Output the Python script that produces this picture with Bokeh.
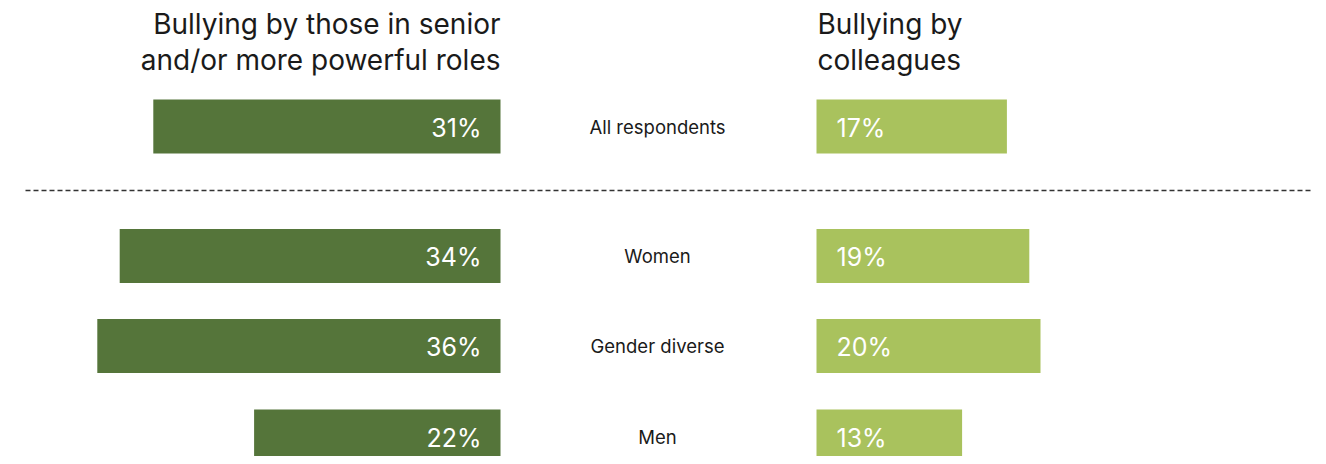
from bokeh.plotting import figure
from bokeh.models import Range1d, ColumnDataSource
from bokeh.core.properties import value
from bokeh.embed import file_html
from bokeh.resources import INLINE

# ---- data ----
categories = ["All respondents", "Women", "Gender diverse", "Men"]
senior = [31, 34, 36, 22]
colleagues = [17, 19, 20, 13]
title_senior = ["Bullying by those in senior", "and/or more powerful roles"]
title_colleagues = ["Bullying by", "colleagues"]

# ---- layout ----
W, H = 1318, 456
PX = 11.2                 # pixels per percentage point
LEFT0 = 500               # pixel x of the left bars' origin
RIGHT0 = (816 - LEFT0) / PX
row_y = [126, 255.5, 345.5, 436]
BAR_H = 54
DARK = "#55753A"
LIGHT = "#A9C25D"
FONT = "Inter"

p = figure(width=W, height=H, output_backend="svg", toolbar_location=None,
           x_range=Range1d(-LEFT0 / PX, (W - LEFT0) / PX),
           y_range=Range1d(H, 0), min_border=0)
p.axis.visible = False
p.grid.visible = False
p.outline_line_color = None
p.background_fill_color = "white"
p.border_fill_color = "white"

src = ColumnDataSource(dict(
    y=row_y,
    cat=categories,
    s_left=[-v for v in senior], s_right=[0] * len(senior),
    c_left=[RIGHT0] * len(colleagues), c_right=[RIGHT0 + v for v in colleagues],
    s_lab=[f"{v}%" for v in senior], c_lab=[f"{v}%" for v in colleagues],
    top=[y - BAR_H / 2 for y in row_y], bottom=[y + BAR_H / 2 for y in row_y],
    ty=[y + 1 for y in row_y],
    s_tx=[-19 / PX] * len(senior), c_tx=[RIGHT0 + 20 / PX] * len(colleagues),
    mx=[(657 - LEFT0) / PX] * len(categories),
))

p.quad(left="s_left", right="s_right", top="top", bottom="bottom", source=src,
       fill_color=DARK, line_color=None)
p.quad(left="c_left", right="c_right", top="top", bottom="bottom", source=src,
       fill_color=LIGHT, line_color=None)

p.text(x="s_tx", y="ty", text="s_lab", source=src, text_align="right",
       text_baseline="middle", text_color="white", text_font=value(FONT),
       text_font_size="25px")
p.text(x="c_tx", y="ty", text="c_lab", source=src, text_align="left",
       text_baseline="middle", text_color="white", text_font=value(FONT),
       text_font_size="25px")
p.text(x="mx", y="y", text="cat", source=src, text_align="center",
       text_baseline="middle", text_color="#1a1a1a", text_font=value(FONT),
       text_font_size="18.5px")

# titles
p.text(x=[0, 0], y=[23, 59], text=title_senior, text_align="right",
       text_baseline="alphabetic", text_color="#1a1a1a", text_font=value(FONT),
       text_font_size="28px")
p.text(x=[RIGHT0 + 1 / PX] * 2, y=[23, 59], text=title_colleagues, text_align="left",
       text_baseline="alphabetic", text_color="#1a1a1a", text_font=value(FONT),
       text_font_size="28px")

# separator
p.segment(x0=[(25 - LEFT0) / PX], x1=[(1311 - LEFT0) / PX], y0=[190], y1=[190],
          line_color="#333333", line_width=1.6, line_dash="5 3")

open("out.html", "w").write(file_html(p, INLINE))
